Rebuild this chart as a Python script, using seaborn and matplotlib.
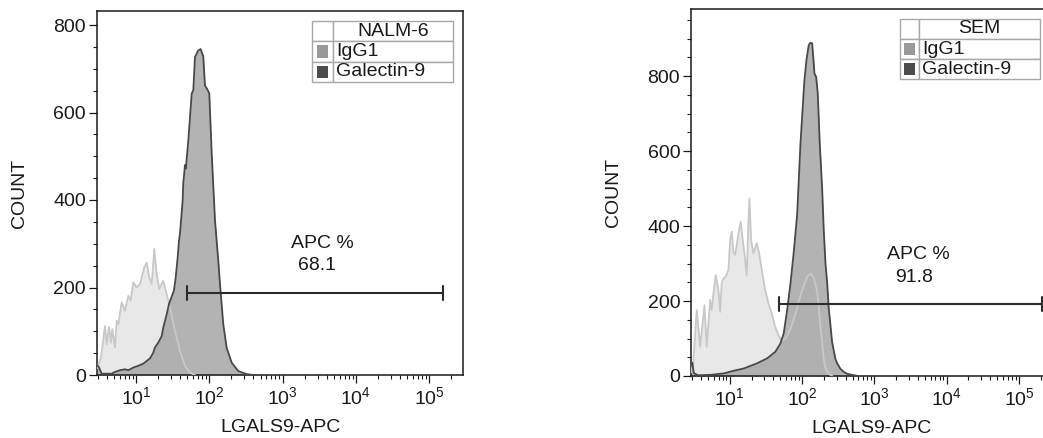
import matplotlib
matplotlib.use("Agg")
import numpy as np
import pandas as pd
import matplotlib.pyplot as plt
import seaborn as sns
from matplotlib.ticker import LogLocator, MultipleLocator, LogFormatterSciNotation, NullFormatter
from matplotlib.patches import Rectangle

# ---------------------------------------------------------------- data
# Histogram outlines: bin position (log10 of LGALS9-APC) and cell count.
nalm6_igg1_log = [0.470, 0.523, 0.577, 0.600, 0.632, 0.659, 0.677, 0.714, 0.737, 0.759,
                  0.805, 0.850, 0.895, 0.928, 0.963, 1.010, 1.055, 1.113, 1.146, 1.181,
                  1.214, 1.250, 1.282, 1.318, 1.351, 1.372, 1.419, 1.464, 1.532, 1.600,
                  1.668, 1.737, 1.805]
nalm6_igg1_count = [15, 40, 112, 70, 110, 74, 105, 63, 124, 116,
                    166, 147, 181, 170, 212, 200, 208, 246, 257, 223,
                    208, 288, 231, 197, 209, 215, 185, 154, 101, 55,
                    21, 5, 0]

nalm6_gal9_log = [0.470, 0.495, 0.532, 0.668, 0.713, 0.782, 0.850, 0.895, 0.963, 1.031,
                  1.100, 1.146, 1.191, 1.236, 1.259, 1.304, 1.351, 1.372, 1.419, 1.450,
                  1.487, 1.518, 1.542, 1.569, 1.587, 1.600, 1.637, 1.645, 1.659, 1.668,
                  1.680, 1.714, 1.760, 1.782, 1.805, 1.850, 1.883, 1.900, 1.918, 1.941,
                  1.973, 2.000, 2.033, 2.078, 2.123, 2.146, 2.191, 2.237, 2.306, 2.396,
                  2.510, 2.600]
nalm6_gal9_count = [22, 18, 3, 3, 7, 11, 13, 11, 17, 21,
                    26, 32, 38, 51, 63, 74, 89, 108, 139, 162,
                    179, 193, 223, 269, 307, 323, 399, 438, 462, 480,
                    472, 536, 643, 651, 727, 742, 745, 736, 729, 662,
                    653, 644, 506, 353, 261, 208, 116, 62, 28, 9,
                    2, 0]

sem_igg1_log = [0.470, 0.498, 0.544, 0.591, 0.650, 0.682, 0.729, 0.751, 0.775, 0.806,
                0.844, 0.867, 0.889, 0.913, 0.945, 0.982, 1.006, 1.028, 1.051, 1.075,
                1.120, 1.152, 1.180, 1.203, 1.235, 1.259, 1.272, 1.296, 1.328, 1.373,
                1.407, 1.443, 1.490, 1.535, 1.581, 1.628, 1.674, 1.715, 1.770, 1.840,
                1.909, 1.978, 2.024, 2.071, 2.116, 2.162, 2.209, 2.231, 2.254, 2.278,
                2.300, 2.324, 2.365, 2.420]
sem_igg1_count = [10, 43, 176, 78, 189, 78, 203, 176, 220, 269,
                  229, 171, 247, 260, 265, 283, 363, 385, 331, 323,
                  380, 411, 363, 327, 269, 416, 474, 363, 327, 354,
                  327, 283, 229, 194, 167, 131, 109, 93, 100, 125,
                  165, 215, 240, 265, 274, 262, 225, 182, 131, 90,
                  45, 20, 6, 0]

sem_gal9_log = [0.470, 0.484, 0.502, 0.560, 0.733, 0.917, 1.055, 1.194, 1.379, 1.517,
                1.632, 1.701, 1.747, 1.794, 1.840, 1.885, 1.932, 1.954, 1.978, 2.001,
                2.033, 2.061, 2.093, 2.116, 2.140, 2.162, 2.171, 2.195, 2.217, 2.245,
                2.278, 2.300, 2.324, 2.347, 2.369, 2.383, 2.416, 2.462, 2.485, 2.531,
                2.577, 2.624, 2.715, 2.780]
sem_gal9_count = [30, 35, 8, 2, 3, 7, 14, 20, 34, 47,
                  65, 87, 114, 176, 247, 330, 430, 520, 620, 691,
                  789, 843, 883, 889, 887, 834, 807, 798, 754, 620,
                  500, 390, 300, 250, 180, 155, 90, 45, 34, 19,
                  11, 6, 2, 0]

# Gate (APC+ region): start, end and drawing height, plus the reported percentage
gate_start = [50.1, 48.2]
gate_end = [1.56e5, 2.11e5]
gate_level = [187, 192]
gate_pct = ["68.1", "91.8"]

cell_lines = ["NALM-6", "SEM"]
series_names = ["IgG1", "Galectin-9"]
x_label = "LGALS9-APC"
y_label = "COUNT"

# ---------------------------------------------------------------- style
sns.set_style("ticks")
plt.rcParams["font.family"] = ["Liberation Sans", "DejaVu Sans"]
plt.rcParams["mathtext.fontset"] = "custom"
plt.rcParams["mathtext.rm"] = "Liberation Sans"
plt.rcParams["mathtext.it"] = "Liberation Sans:italic"
plt.rcParams["mathtext.bf"] = "Liberation Sans:bold"

FS = 14
INK = "#1a1a1a"
IGG_FILL, IGG_LINE = "#e8e8e8", "#c8c8c8"
GAL_FILL, GAL_LINE = "#a6a6a6", "#484848"
SWATCH = {"IgG1": "#999999", "Galectin-9": "#4d4d4d"}


def frame(name, logs, counts):
    return pd.DataFrame({"x": np.power(10.0, logs), "count": counts, "series": name})


def draw_panel(ax, igg_log, igg_cnt, gal_log, gal_cnt, ymax, gate_i, legend_box, txt_pos):
    igg = frame("IgG1", igg_log, igg_cnt)
    gal = frame("Galectin-9", gal_log, gal_cnt)

    ax.set_xscale("log")
    ax.fill_between(igg["x"], igg["count"], color=IGG_FILL, lw=0, zorder=1)
    ax.fill_between(gal["x"], gal["count"], color=GAL_FILL, alpha=0.85, lw=0, zorder=2)
    sns.lineplot(data=igg, x="x", y="count", ax=ax, color=IGG_LINE, lw=1.3,
                 estimator=None, sort=False, zorder=3)
    sns.lineplot(data=gal, x="x", y="count", ax=ax, color=GAL_LINE, lw=1.3,
                 estimator=None, sort=False, zorder=4)

    # gate bar with end caps
    g0, g1, gy = gate_start[gate_i], gate_end[gate_i], gate_level[gate_i]
    cap = ymax * 0.019
    ax.plot([g0, g1], [gy, gy], color="#2b2b2b", lw=1.5, zorder=5, clip_on=False)
    for gx in (g0, g1):
        ax.plot([gx, gx], [gy - cap, gy + cap], color="#2b2b2b", lw=1.5, zorder=5, clip_on=False)
    (tx1, ty1), (tx2, ty2) = txt_pos
    ax.text(tx1, ty1, "APC %", ha="center", va="center", fontsize=FS, color=INK)
    ax.text(tx2, ty2, gate_pct[gate_i], ha="center", va="center", fontsize=FS, color=INK)

    ax.set_xlim(2.94, 2.89e5)
    ax.set_ylim(0, ymax)
    ax.xaxis.set_major_locator(LogLocator(base=10, numticks=10))
    ax.xaxis.set_minor_locator(LogLocator(base=10, subs=np.arange(2, 10), numticks=20))
    ax.xaxis.set_major_formatter(LogFormatterSciNotation())
    ax.xaxis.set_minor_formatter(NullFormatter())
    ax.yaxis.set_major_locator(MultipleLocator(200))
    ax.yaxis.set_minor_locator(MultipleLocator(50))
    ax.tick_params(which="major", direction="out", length=6, width=0.9, colors=INK,
                   labelsize=FS, pad=2)
    ax.tick_params(which="minor", direction="out", length=3, width=0.8, colors=INK)
    for s in ax.spines.values():
        s.set_visible(True)
        s.set_linewidth(1.1)
        s.set_color(INK)
    ax.set_xlabel(x_label, fontsize=FS, color=INK, labelpad=8)
    ax.set_ylabel(y_label, fontsize=FS, color=INK, labelpad=18)

    # legend table
    x0, xs, x1, y0, y1 = legend_box
    rows = [cell_lines[gate_i]] + series_names
    rh = (y1 - y0) / 3
    edge = "#a8a8a8"
    for r, label in enumerate(rows):
        top = y1 - r * rh
        ax.add_patch(Rectangle((x0, top - rh), xs - x0, rh, transform=ax.transAxes,
                               facecolor="white", edgecolor=edge, lw=1.0, zorder=6))
        ax.add_patch(Rectangle((xs, top - rh), x1 - xs, rh, transform=ax.transAxes,
                               facecolor="white", edgecolor=edge, lw=1.0, zorder=6))
        if r == 0:
            ax.text((xs + x1) / 2, top - rh / 2, label, transform=ax.transAxes,
                    ha="center", va="center", fontsize=FS, color=INK, zorder=7)
        else:
            sw = (xs - x0) * 0.55
            ax.add_patch(Rectangle(((x0 + xs) / 2 - sw / 2, top - rh / 2 - rh * 0.3),
                                   sw, rh * 0.6, transform=ax.transAxes,
                                   facecolor=SWATCH[label], edgecolor="none", zorder=7))
            ax.text(xs + 0.008, top - rh / 2, label, transform=ax.transAxes,
                    ha="left", va="center", fontsize=FS, color=INK, zorder=7)


fig = plt.figure(figsize=(10.43, 4.38), dpi=100)
ax1 = fig.add_axes([97 / 1043, 63 / 438, 366 / 1043, 364 / 438])
ax2 = fig.add_axes([691.3 / 1043, 62 / 438, 361 / 1043, 367 / 438])

draw_panel(ax1, nalm6_igg1_log, nalm6_igg1_count, nalm6_gal9_log, nalm6_gal9_count,
           832, 0, (0.587, 0.645, 0.973, 0.805, 0.9725),
           ((3450, 300), (2945, 250)))
draw_panel(ax2, sem_igg1_log, sem_igg1_count, sem_gal9_log, sem_gal9_count,
           979, 1, (0.577, 0.632, 0.965, 0.809, 0.973),
           ((4010, 323), (3530, 264)))

fig.savefig("out.png", dpi=100)
